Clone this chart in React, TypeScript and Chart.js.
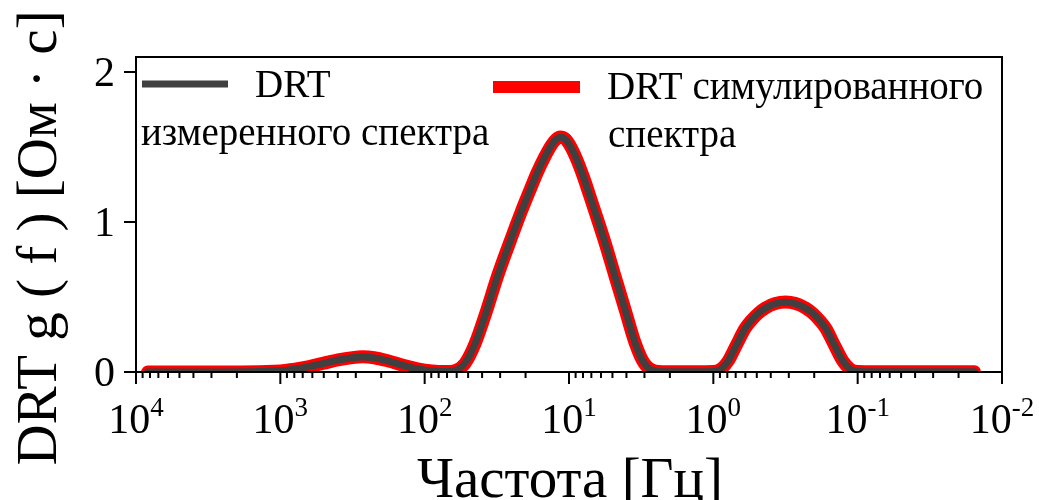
import React, { useEffect, useRef } from "react";
import { Chart, registerables } from "chart.js";

Chart.register(...registerables);

// Frequencies in Hz (x axis, log, reversed)
const FREQS = [
  8300, 3160, 1000, 794, 631, 500, 398, 316, 270, 224, 178, 141, 112, 89, 71,
  61.7, 52.5, 44.7, 37.2, 31.6, 26.3, 21.4, 18.6, 16.6, 14.8, 13.2, 12.3, 11.5,
  10.7, 9.77, 8.91, 7.94, 7.24, 6.61, 5.62, 4.79, 4.07, 3.47, 3.02, 2.51, 2.0,
  1.0, 0.891, 0.794, 0.692, 0.603, 0.55, 0.49, 0.437, 0.372, 0.316, 0.269,
  0.229, 0.204, 0.182, 0.166, 0.145, 0.126, 0.112, 0.1, 0.05, 0.0155,
];

// DRT of the measured spectrum
const MEASURED = [
  0, 0, 0.008, 0.02, 0.036, 0.058, 0.08, 0.095, 0.1, 0.094, 0.072, 0.044, 0.02,
  0.007, 0.004, 0.01, 0.06, 0.19, 0.41, 0.625, 0.84, 1.07, 1.215, 1.33, 1.43,
  1.515, 1.55, 1.565, 1.555, 1.505, 1.425, 1.3, 1.185, 1.07, 0.86, 0.635, 0.41,
  0.19, 0.06, 0.006, 0.002, 0.004, 0.018, 0.07, 0.18, 0.29, 0.34, 0.39, 0.425,
  0.455, 0.465, 0.455, 0.425, 0.39, 0.34, 0.29, 0.18, 0.07, 0.018, 0.004,
  0.001, 0.001,
];

// DRT of the simulated spectrum
const SIMULATED = [
  0, 0, 0.007, 0.019, 0.036, 0.059, 0.081, 0.096, 0.101, 0.095, 0.073, 0.045,
  0.021, 0.007, 0.003, 0.009, 0.058, 0.19, 0.41, 0.626, 0.84, 1.07, 1.215, 1.33,
  1.43, 1.515, 1.551, 1.566, 1.556, 1.505, 1.425, 1.3, 1.185, 1.07, 0.86, 0.636,
  0.41, 0.19, 0.06, 0.006, 0.001, 0.003, 0.018, 0.07, 0.18, 0.29, 0.34, 0.39,
  0.426, 0.456, 0.466, 0.456, 0.426, 0.39, 0.34, 0.29, 0.18, 0.07, 0.018,
  0.004, 0.001, 0.001,
];

const LEGEND_MEASURED = ["DRT", "измеренного спектра"];
const LEGEND_SIMULATED = ["DRT симулированного", "спектра"];

const X_MAJOR_EXPONENTS = [4, 3, 2, 1, 0, -1, -2];
const X_MINOR_MULTIPLIERS = [2, 3, 4, 5, 6, 7, 8, 9];
const Y_TICKS = [0, 1, 2];

const X_TITLE = "Частота [Гц]";
const Y_TITLE = "DRT g ( f ) [Ом · с]";

const FONT = '"Liberation Serif", "Times New Roman", serif';

const overlayPlugin = {
  id: "overlay",
  afterDraw(chart: any) {
    const { ctx, chartArea: a, scales } = chart;
    const xs = scales.x;
    const ys = scales.y;
    ctx.save();
    ctx.strokeStyle = "#000";
    ctx.fillStyle = "#000";
    ctx.lineWidth = 2;
    ctx.strokeRect(a.left, a.top, a.right - a.left, a.bottom - a.top);

    // x ticks
    ctx.beginPath();
    for (const e of X_MAJOR_EXPONENTS) {
      const px = xs.getPixelForValue(Math.pow(10, e));
      ctx.moveTo(px, a.bottom);
      ctx.lineTo(px, a.bottom + 12);
      if (e < 4) {
        for (const m of X_MINOR_MULTIPLIERS) {
          const mx = xs.getPixelForValue(m * Math.pow(10, e));
          ctx.moveTo(mx, a.bottom);
          ctx.lineTo(mx, a.bottom + 6);
        }
      }
    }
    // y ticks
    for (const t of Y_TICKS) {
      const py = ys.getPixelForValue(t);
      ctx.moveTo(a.left, py);
      ctx.lineTo(a.left - 12, py);
    }
    ctx.stroke();

    // x tick labels
    ctx.textBaseline = "alphabetic";
    ctx.textAlign = "left";
    for (const e of X_MAJOR_EXPONENTS) {
      const px = xs.getPixelForValue(Math.pow(10, e));
      ctx.font = `42px ${FONT}`;
      const w1 = ctx.measureText("10").width;
      ctx.font = `27px ${FONT}`;
      const expText = String(e);
      const w2 = ctx.measureText(expText).width;
      const start = px - (w1 + w2) / 2;
      ctx.font = `42px ${FONT}`;
      ctx.fillText("10", start, a.bottom + 61);
      ctx.font = `27px ${FONT}`;
      ctx.fillText(expText, start + w1, a.bottom + 44);
    }

    // y tick labels
    ctx.font = `42px ${FONT}`;
    ctx.textAlign = "right";
    for (const t of Y_TICKS) {
      const py = ys.getPixelForValue(t);
      ctx.fillText(String(t), a.left - 21, py + 14);
    }

    // titles
    ctx.font = `57px ${FONT}`;
    ctx.textAlign = "center";
    ctx.fillText(X_TITLE, 570, 497);
    ctx.save();
    ctx.translate(56, 238);
    ctx.rotate(-Math.PI / 2);
    ctx.fillText(Y_TITLE, 0, 0);
    ctx.restore();

    // legend
    const ds = chart.data.datasets;
    ctx.lineCap = "butt";
    ctx.strokeStyle = ds[0].borderColor;
    ctx.lineWidth = 7;
    ctx.beginPath();
    ctx.moveTo(142, 84);
    ctx.lineTo(228, 84);
    ctx.stroke();
    ctx.strokeStyle = ds[1].borderColor;
    ctx.lineWidth = 12;
    ctx.beginPath();
    ctx.moveTo(493, 87);
    ctx.lineTo(580, 87);
    ctx.stroke();

    ctx.font = `39px ${FONT}`;
    ctx.textAlign = "left";
    ctx.fillText(LEGEND_MEASURED[0], 255, 97);
    ctx.fillText(LEGEND_MEASURED[1], 141, 145);
    ctx.fillText(LEGEND_SIMULATED[0], 607, 99);
    ctx.fillText(LEGEND_SIMULATED[1], 608, 147);
    ctx.restore();
  },
};

export default function App() {
  const ref = useRef<HTMLCanvasElement | null>(null);

  useEffect(() => {
    document.body.style.margin = "0";
    const canvas = ref.current;
    if (!canvas) return;
    const chart = new Chart(canvas, {
      type: "line",
      data: {
        datasets: [
          {
            label: LEGEND_MEASURED.join(" "),
            data: FREQS.map((f, i) => ({ x: f, y: MEASURED[i] })),
            borderColor: "#404040",
            borderWidth: 7,
            pointRadius: 0,
            cubicInterpolationMode: "monotone",
            borderCapStyle: "round",
            borderJoinStyle: "round",
            fill: false,
          },
          {
            label: LEGEND_SIMULATED.join(" "),
            data: FREQS.map((f, i) => ({ x: f, y: SIMULATED[i] })),
            borderColor: "#ff0000",
            borderWidth: 13,
            pointRadius: 0,
            cubicInterpolationMode: "monotone",
            borderCapStyle: "round",
            borderJoinStyle: "round",
            fill: false,
          },
        ],
      },
      options: {
        responsive: false,
        animation: false,
        devicePixelRatio: 1,
        layout: { padding: { left: 136, right: 37, top: 57, bottom: 128 } },
        plugins: { legend: { display: false }, tooltip: { enabled: false } },
        scales: {
          x: {
            type: "logarithmic",
            display: false,
            min: 0.01,
            max: 10000,
            reverse: true,
          },
          y: { type: "linear", display: false, min: 0, max: 2.1 },
        },
      },
      plugins: [overlayPlugin],
    });
    return () => chart.destroy();
  }, []);

  return (
    <canvas
      ref={ref}
      width={1039}
      height={500}
      style={{ display: "block", width: 1039, height: 500 }}
    />
  );
}
